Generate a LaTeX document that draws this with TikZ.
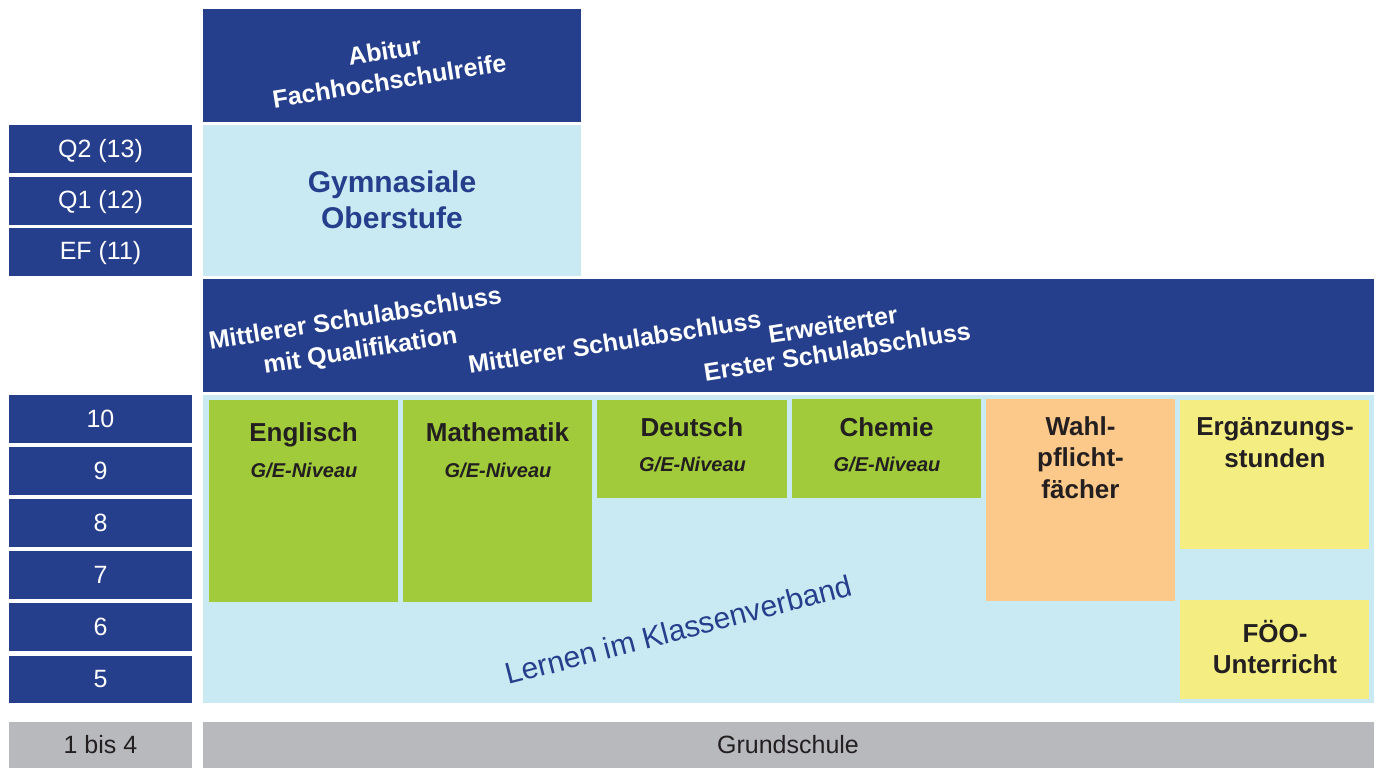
\documentclass[tikz,border=0pt]{standalone}
\usepackage{fontspec}
\setmainfont{Liberation Sans}
\definecolor{navy}{RGB}{38,63,140}
\definecolor{sky}{RGB}{201,234,243}
\definecolor{lime}{RGB}{161,203,58}
\definecolor{peach}{RGB}{252,201,138}
\definecolor{lemon}{RGB}{243,237,130}
\definecolor{ash}{RGB}{184,185,188}
\definecolor{ink}{RGB}{35,31,32}
% \tile{name}{colour}{x1}{y1}{x2}{y2}: a filled block from its top-left to bottom-right corner
\newcommand\tile[6]{\node[tile,fill=#2,minimum width={#5pt-#3pt},minimum height={#6pt-#4pt}] (#1) at (#3,#4) {};}
\begin{document}
\begin{tikzpicture}[x=1pt,y=-1pt,
  tile/.style={inner sep=0pt,outer sep=0pt,draw=none,anchor=north west},
  grade/.style={text=white,anchor=base,inner sep=0pt,font=\fontsize{25}{30}\selectfont},
  gray label/.style={text=ink,anchor=base,inner sep=0pt,font=\fontsize{25}{30}\selectfont},
  degree/.style={text=white,inner sep=0pt,align=center,rotate=9,font=\bfseries\fontsize{25}{#1}\selectfont},
  subject/.style={text=ink,anchor=base,inner sep=0pt,align=center,font=\bfseries\fontsize{26}{#1}\selectfont},
  level/.style={text=ink,anchor=base,inner sep=0pt,font=\bfseries\itshape\fontsize{20}{24}\selectfont}]
\useasboundingbox (0,0) rectangle (1378,768);

% upper secondary
\tile{abitur}{navy}{203}{9}{581}{122}
\tile{oberstufe}{sky}{203}{125}{581}{276}
\tile{q2}{navy}{9}{125}{192}{173}
\tile{q1}{navy}{9}{177}{192}{225}
\tile{ef}{navy}{9}{228}{192}{276}

% multi-line labels are placed by the baseline of their last line
\node[degree=30] (abiturtext) at (387,66) {Abitur\\Fachhochschulreife};
\node[text=navy,anchor=base,inner sep=0pt,align=center,font=\bfseries\fontsize{30}{36}\selectfont] (oberstufetext) at (392,228) {Gymnasiale\\Oberstufe};
\node[grade] (q2text) at (100.5,157) {Q2 (13)};
\node[grade] (q1text) at (100.5,208) {Q1 (12)};
\node[grade] (eftext) at (100.5,259) {EF (11)};

% band of school-leaving certificates
\tile{abschluesse}{navy}{203}{279}{1374}{392}
\node[degree=32] (msaq) at (358,336) {Mittlerer Schulabschluss\\mit Qualifikation};
\node[degree=30] (msa) at (614.5,342) {Mittlerer Schulabschluss};
\node[degree=27] (esa) at (835,338) {Erweiterter\\Erster Schulabschluss};

% lower secondary, grades 5 to 10
\tile{klassenverband}{sky}{203}{395}{1374}{703}
\tile{g10}{navy}{9}{395}{192}{443}
\tile{g9}{navy}{9}{447}{192}{495}
\tile{g8}{navy}{9}{499}{192}{547}
\tile{g7}{navy}{9}{551}{192}{599}
\tile{g6}{navy}{9}{603}{192}{651}
\tile{g5}{navy}{9}{656}{192}{703}
\node[grade] (g10text) at (100.5,427) {10};
\node[grade] (g9text) at (100.5,479) {9};
\node[grade] (g8text) at (100.5,531) {8};
\node[grade] (g7text) at (100.5,583) {7};
\node[grade] (g6text) at (100.5,635) {6};
\node[grade] (g5text) at (100.5,687) {5};

\tile{englisch}{lime}{209}{400}{398}{602}
\tile{mathe}{lime}{403}{400}{592}{602}
\tile{deutsch}{lime}{597}{400}{787}{498}
\tile{chemie}{lime}{792}{399}{981}{498}
\tile{wahlpflicht}{peach}{986}{399}{1175}{601}
\tile{ergaenzung}{lemon}{1180}{400}{1369}{549}
\tile{foeo}{lemon}{1180}{600}{1369}{699}

\node[subject=30] (englischtext) at (303.5,441) {Englisch};
\node[level] (englischlevel) at (304,477) {G/E-Niveau};
\node[subject=30] (mathetext) at (497.5,441) {Mathematik};
\node[level] (mathelevel) at (498,477) {G/E-Niveau};
\node[subject=30] (deutschtext) at (692,436) {Deutsch};
\node[level] (deutschlevel) at (692.5,471) {G/E-Niveau};
\node[subject=30] (chemietext) at (886.5,436) {Chemie};
\node[level] (chemielevel) at (887,471) {G/E-Niveau};
\node[subject=31.5] (wahlpflichttext) at (1080.5,498) {Wahl-\\pflicht-\\fächer};
\node[subject=32] (ergaenzungtext) at (1275,467) {Ergänzungs-\\stunden};
\node[subject=31] (foeotext) at (1275,673) {FÖO-\\Unterricht};

\node[text=navy,anchor=base,inner sep=0pt,rotate=14.6,font=\fontsize{30}{36}\selectfont] (lernen) at (681,640) {Lernen im Klassenverband};

% primary school
\tile{primar}{ash}{9}{722}{192}{768}
\tile{grundschule}{ash}{203}{722}{1374}{768}
\node[gray label] (primartext) at (100.5,753) {1 bis 4};
\node[gray label] (grundschuletext) at (788,753) {Grundschule};
\end{tikzpicture}
\end{document}
